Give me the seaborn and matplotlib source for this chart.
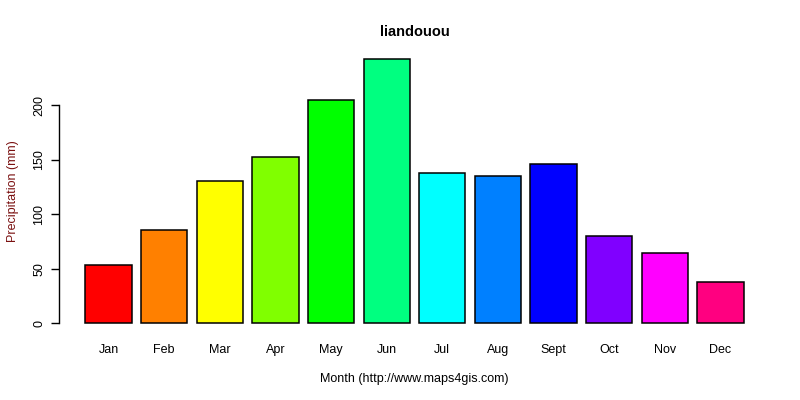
import matplotlib
matplotlib.use("Agg")
from matplotlib import pyplot as plt
import seaborn as sns
import pandas as pd

months = ["Jan", "Feb", "Mar", "Apr", "May", "Jun",
          "Jul", "Aug", "Sept", "Oct", "Nov", "Dec"]
precip = [53.2, 85.3, 130.3, 152.3, 204.6, 242.2,
          137.6, 134.9, 145.9, 79.8, 64.2, 37.6]
bar_colors = ["#FF0000", "#FF8000", "#FFFF00", "#80FF00", "#00FF00", "#00FF80",
              "#00FFFF", "#0080FF", "#0000FF", "#8000FF", "#FF00FF", "#FF0080"]
y_ticks = [0, 50, 100, 150, 200]

sns.set_style("white")
plt.rcParams["font.family"] = ["Liberation Sans", "DejaVu Sans"]
plt.rcParams["text.color"] = "black"
plt.rcParams["axes.labelcolor"] = "black"
plt.rcParams["xtick.color"] = "black"
plt.rcParams["ytick.color"] = "black"

df = pd.DataFrame({"month": months, "precip": precip})

fig = plt.figure(figsize=(8, 4), dpi=100)
ax = fig.add_axes([0.07375, 0.165, 0.88875, 0.713])

sns.barplot(data=df, x="month", y="precip", hue="month", palette=bar_colors,
            width=0.8333, edgecolor="black", linewidth=1.1, legend=False,
            saturation=1, ax=ax)

ax.set_xlim(-0.89, 11.89)
ax.set_ylim(-9.7, 251.9)

for s in ["top", "right", "bottom"]:
    ax.spines[s].set_visible(False)
ax.spines["left"].set_bounds(0, 200)
ax.spines["left"].set_color("black")
ax.spines["left"].set_linewidth(1)

ax.set_yticks(y_ticks)
ax.set_yticklabels([str(t) for t in y_ticks], rotation=90, va="center", fontsize=9)
ax.tick_params(axis="y", length=6, width=1, color="black", pad=4, left=True)
ax.tick_params(axis="x", length=0, pad=7.5, labelsize=9)

ax.set_xlabel("Month (http://www.maps4gis.com)", fontsize=9, labelpad=12)
ax.set_ylabel("Precipitation (mm)", fontsize=9, color="#7a1010", labelpad=10)
ax.set_title("liandouou", fontsize=10.5, fontweight="bold", pad=9)

plt.savefig("out.png", dpi=100)
